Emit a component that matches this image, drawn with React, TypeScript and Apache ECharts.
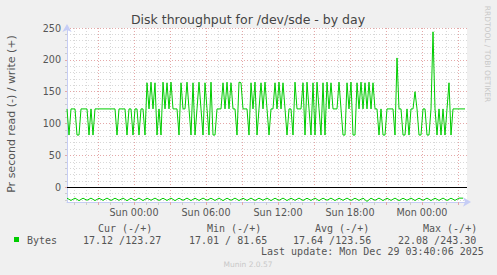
import React, { useEffect, useRef } from 'react';
import * as echarts from 'echarts';

const TITLE = 'Disk throughput for /dev/sde - by day';
const Y_NAME = 'Pr second read (-) / write (+)';
const WATERMARK = 'RRDTOOL / TOBI OETIKER';
const FOOTER = 'Munin 2.0.57';
const LAST_UPDATE = 'Last update: Mon Dec 29 03:40:06 2025';
const SERIES_NAME = 'Bytes';

// time in hours since Sat 00:00
const START_HOUR = 18 + 25 / 60; // Sat 18:25
const END_HOUR = START_HOUR + (400 * 5) / 60; // Mon 03:45
const WRITE_STEP_MIN = 10;
const READ_STEP_MIN = 20;

// write bytes/s (plotted positive)
const writeBytes = [
  123, 82, 123, 123, 123, 82, 82, 123, 123, 123, 123, 82, 123, 82, 123, 123, 123, 123, 123, 123,
  123, 123, 123, 123, 123, 82, 123, 123, 123, 123, 82, 123, 123, 82, 123, 123, 82, 123, 123, 82,
  164, 123, 165, 123, 164, 82, 123, 82, 165, 123, 164, 123, 165, 123, 123, 123, 82, 164, 123, 123,
  165, 123, 82, 164, 82, 123, 165, 123, 82, 164, 123, 82, 165, 82, 82, 123, 123, 123, 164, 123,
  165, 123, 164, 123, 123, 82, 165, 164, 123, 123, 123, 82, 164, 123, 165, 82, 123, 164, 123, 165,
  123, 82, 123, 123, 164, 123, 165, 123, 164, 123, 82, 123, 123, 82, 165, 123, 123, 123, 164, 82,
  165, 123, 82, 164, 82, 165, 123, 82, 164, 82, 165, 123, 164, 123, 123, 123, 165, 123, 82, 82,
  164, 123, 165, 82, 82, 164, 123, 165, 123, 164, 123, 165, 123, 164, 123, 123, 82, 123, 82, 82,
  123, 123, 123, 123, 82, 203, 123, 123, 82, 82, 123, 82, 123, 123, 150, 123, 82, 82, 123, 123,
  82, 82, 123, 244, 123, 82, 123, 82, 123, 82, 123, 164, 82, 123, 123, 123, 123, 123, 123, 123,
];

// read bytes/s (plotted negative)
const readBytes = [
  17.1, 20.6, 17.0, 20.9, 17.1, 20.4, 17.0, 20.8, 17.2, 20.5,
  17.0, 20.7, 17.1, 20.5, 17.0, 21.0, 17.1, 20.6, 17.0, 20.8,
  17.1, 20.4, 17.0, 20.7, 17.2, 20.6, 17.0, 20.9, 17.1, 20.5,
  17.0, 20.8, 17.1, 20.6, 17.0, 20.4, 17.1, 20.7, 17.0, 20.9,
  17.1, 20.5, 17.0, 20.8, 17.2, 20.6, 17.0, 20.7, 17.1, 20.4,
  17.0, 20.9, 17.1, 20.6, 17.0, 20.8, 17.1, 20.5, 17.0, 20.7,
  17.2, 20.6, 17.0, 20.9, 17.1, 20.4, 17.0, 20.8, 17.1, 20.5,
  17.0, 20.7, 17.1, 20.6, 17.0, 22.1, 17.1, 20.5, 17.0, 20.8,
  17.1, 20.6, 17.0, 20.9, 17.2, 20.4, 17.0, 20.7, 17.1, 20.5,
  17.0, 20.8, 17.1, 20.6, 17.0, 20.7, 17.1, 20.5, 17.0, 17.1,
];

const Y_MIN = -23.1;
const Y_MAX = 250;
const yMajorTicks = [0, 50, 100, 150, 200, 250];
const yMinorTicks = [-20, -10, 10, 20, 30, 40, 60, 70, 80, 90, 110, 120, 130, 140, 160, 170, 180, 190, 210, 220, 230, 240];
const xMajorTicks = [21, 24, 27, 30, 33, 36, 39, 42, 45, 48, 51];
const xMinorTicks = [19, 20, 22, 23, 25, 26, 28, 29, 31, 32, 34, 35, 37, 38, 40, 41, 43, 44, 46, 47, 49, 50];
const xLabelTicks = [24, 30, 36, 42, 48];
const DAY_NAMES = ['Sat', 'Sun', 'Mon'];

const legendHeaders = ['Cur (-/+)', 'Min (-/+)', 'Avg (-/+)', 'Max (-/+)'];
const legendValues = ['17.12 /123.27', '17.01 / 81.65', '17.64 /123.56', '22.08 /243.30'];

const GREEN = '#00cc00';
const AXIS_COLOR = '#c6cdf5';
const MINOR_GRID = '#d8d8d8';
const MAJOR_GRID = '#e4a8a8';
const TEXT = '#555555';
const SANS = '"DejaVu Sans", sans-serif';
const MONO = '"DejaVu Sans Mono", monospace';

function fmtHour(v: number): string {
  const day = DAY_NAMES[Math.floor(v / 24)];
  const h = Math.round(v % 24);
  return `${day} ${String(h).padStart(2, '0')}:00`;
}

export default function App() {
  const ref = useRef<HTMLDivElement>(null);

  useEffect(() => {
    document.body.style.margin = '0';
    const chart = echarts.init(ref.current!, undefined, { renderer: 'svg' });

    const writeData = writeBytes.map((v, i) => [START_HOUR + (i * WRITE_STEP_MIN) / 60, v]);
    const readData = readBytes.map((v, i) => [START_HOUR + (i * READ_STEP_MIN) / 60, -v]);

    const headerX = [98, 207, 315, 423];
    const valueX = [83, 189, 293, 398];

    const graphics: any[] = [
      {
        type: 'text', x: 248, y: 19,
        style: { text: TITLE, fill: '#444', font: `12.5px ${SANS}`, textAlign: 'center', textVerticalAlign: 'middle' },
      },
      {
        type: 'text', x: 11, y: 114, rotation: Math.PI / 2,
        style: { text: Y_NAME, fill: TEXT, font: `11px ${SANS}`, textAlign: 'center', textVerticalAlign: 'middle' },
      },
      {
        type: 'text', x: 487, y: 54, rotation: -Math.PI / 2,
        style: { text: WATERMARK, fill: '#c8c8c8', font: `7.5px ${SANS}`, textAlign: 'center', textVerticalAlign: 'middle' },
      },
      {
        type: 'rect', shape: { x: 14, y: 237, width: 5, height: 5 }, style: { fill: GREEN },
      },
      {
        type: 'text', x: 27, y: 240,
        style: { text: SERIES_NAME, fill: TEXT, font: `10px ${MONO}`, textAlign: 'left', textVerticalAlign: 'middle' },
      },
      {
        type: 'text', x: 261, y: 251.5,
        style: { text: LAST_UPDATE, fill: TEXT, font: `10px ${MONO}`, textAlign: 'left', textVerticalAlign: 'middle' },
      },
      {
        type: 'text', x: 248, y: 264,
        style: { text: FOOTER, fill: '#c8c8c8', font: `7.5px ${SANS}`, textAlign: 'center', textVerticalAlign: 'middle' },
      },
    ];
    legendHeaders.forEach((h, i) => {
      graphics.push({
        type: 'text', x: headerX[i], y: 228,
        style: { text: h, fill: TEXT, font: `10px ${MONO}`, textAlign: 'left', textVerticalAlign: 'middle' },
      });
    });
    legendValues.forEach((v, i) => {
      graphics.push({
        type: 'text', x: valueX[i], y: 240,
        style: { text: v, fill: TEXT, font: `10px ${MONO}`, textAlign: 'left', textVerticalAlign: 'middle' },
      });
    });

    const option: any = {
      animation: false,
      backgroundColor: '#f0f0f0',
      grid: {
        left: 67, top: 28, width: 400, height: 174,
        show: true, backgroundColor: '#ffffff', borderWidth: 0,
      },
      xAxis: [
        {
          type: 'value', min: START_HOUR, max: END_HOUR, position: 'bottom',
          axisLine: {
            show: true, onZero: false,
            lineStyle: { color: AXIS_COLOR, width: 1 },
            symbol: ['none', 'arrow'], symbolSize: [7, 8], symbolOffset: [0, 4],
          },
          axisTick: { show: true, length: 3, customValues: xMinorTicks, lineStyle: { color: '#cccccc' } },
          splitLine: { show: true, customValues: xMinorTicks, lineStyle: { color: MINOR_GRID, type: [1, 2], width: 1 } },
          axisLabel: {
            show: true, customValues: xLabelTicks, margin: 5,
            color: TEXT, fontSize: 9.6, fontFamily: SANS,
            formatter: (v: number) => fmtHour(v),
          },
        },
        {
          type: 'value', min: START_HOUR, max: END_HOUR, position: 'bottom',
          axisLine: { show: false, onZero: false },
          axisTick: { show: true, length: 3, customValues: xMajorTicks, lineStyle: { color: MAJOR_GRID } },
          splitLine: { show: true, customValues: xMajorTicks, lineStyle: { color: MAJOR_GRID, type: [1, 2], width: 1 } },
          axisLabel: { show: false },
        },
      ],
      yAxis: [
        {
          type: 'value', min: Y_MIN, max: Y_MAX, position: 'left',
          axisLine: {
            show: true, onZero: false,
            lineStyle: { color: AXIS_COLOR, width: 1 },
            symbol: ['none', 'arrow'], symbolSize: [7, 8], symbolOffset: [0, 4],
          },
          axisTick: { show: true, length: 2, customValues: yMinorTicks, lineStyle: { color: '#cccccc' } },
          splitLine: { show: true, customValues: yMinorTicks, lineStyle: { color: MINOR_GRID, type: [1, 2], width: 1 } },
          axisLabel: {
            show: true, customValues: yMajorTicks, margin: 6,
            color: TEXT, fontSize: 9.6, fontFamily: SANS,
          },
        },
        {
          type: 'value', min: Y_MIN, max: Y_MAX, position: 'left',
          axisLine: { show: false, onZero: false },
          axisTick: { show: true, length: 2, customValues: yMajorTicks, lineStyle: { color: MAJOR_GRID } },
          splitLine: { show: true, customValues: yMajorTicks, lineStyle: { color: MAJOR_GRID, type: [1, 2], width: 1 } },
          axisLabel: { show: false },
        },
      ],
      series: [
        {
          name: SERIES_NAME + ' read', type: 'line', data: readData,
          xAxisIndex: 0, yAxisIndex: 0,
          showSymbol: false, symbol: 'none',
          lineStyle: { color: GREEN, width: 1 },
          z: 3,
        },
        {
          name: SERIES_NAME, type: 'line', data: writeData,
          xAxisIndex: 0, yAxisIndex: 0,
          showSymbol: false, symbol: 'none',
          lineStyle: { color: GREEN, width: 1 },
          z: 4,
          markLine: {
            silent: true, symbol: ['none', 'none'],
            label: { show: false },
            lineStyle: { color: '#000000', width: 1, type: 'solid' },
            data: [{ yAxis: 0 }],
            z: 2,
          },
        },
      ],
      graphic: graphics,
    };

    chart.setOption(option);
    return () => chart.dispose();
  }, []);

  return (
    <div
      ref={ref}
      style={{ position: 'absolute', left: 0, top: 0, width: 497, height: 275, background: '#f0f0f0' }}
    />
  );
}
